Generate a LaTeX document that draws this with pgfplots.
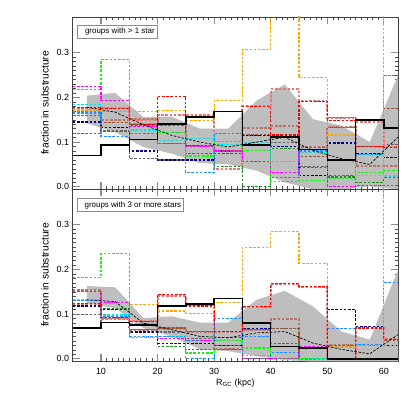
\documentclass[border=0pt]{standalone}
\usepackage{fontspec}
\setmainfont{Liberation Sans}
\usepackage{pgfplots}
\usepackage{pgfplotstable}
\pgfplotsset{compat=1.18}

\definecolor{bandgray}{gray}{0.745}
\definecolor{cMag}{rgb}{1,0,1}
\definecolor{cLime}{rgb}{0.1,0.95,0.1}
\definecolor{cRed}{rgb}{1,0,0}
\definecolor{cOra}{rgb}{1,0.65,0}
\definecolor{cDod}{rgb}{0.12,0.56,1}
\definecolor{cCya}{rgb}{0,0.9,0.9}
\definecolor{cNav}{rgb}{0,0,0.5}
\definecolor{cSie}{rgb}{0.63,0.32,0.18}
\definecolor{cFor}{rgb}{0.13,0.55,0.13}
\definecolor{cGry}{gray}{0.4}
\definecolor{cSal}{rgb}{0.95,0.45,0.45}
\definecolor{cRos}{rgb}{0.72,0.45,0.42}

% bins: left edges, last row repeats the last bin
\pgfplotstableread{
x  mag  lime red  ora  dod  cya  nav  sie  fgr  gry  sal  ros
5  .224 .217 .178 .172 .165 .184 .145 .119 .170 .160 .177 .170
10 .193 .285 .175 .168 .113 .168 .132 .143 .124 .125 .177 .150
15 .134 .141 .140 .168 .120 .127 .080 .137 .140 .063 .150 .152
20 .097 .121 .203 .171 .096 .104 .060 .137 .121 .060 .160 .140
25 .091 .069 .092 .149 .031 .108 .060 .090 .075 .090 .160 .091
30 .080 .101 .074 .193 .119 .094 .080 .078 .045 .080 .039 .080
35 .057 .082 .180 .307 .093 .100 .114 .116 .000 .100 .180 .131
40 .031 .011 .116 .450 .020 .057 .090 .116 .086 .100 .218 .135
45 .088 .014 .191 .244 .080 .076 .025 .067 .043 .045 .191 .090
50 .000 .019 .149 .116 .156 .060 .098 .133 .022 .026 .155 .133
55 .003 .031 .090 .025 .072 .072 .075 .091 .010 .090 .145 .046
60 .003 .037 .088 .450 .249 .024 .066 .175 .020 .095 .090 .046
65 .003 .037 .088 .450 .249 .024 .066 .175 .020 .095 .090 .046
}\topdata

\pgfplotstableread{
x  mag  lime red  ora  dod  cya  nav  sie  fgr  gry  sal  ros
5  .150 .182 .124 .133 .130 .133 .118 .069 .120 .100 .120 .154
10 .126 .235 .092 .129 .095 .098 .110 .095 .113 .090 .090 .091
15 .065 .078 .084 .122 .050 .048 .060 .065 .078 .060 .084 .065
20 .045 .065 .144 .107 .050 .050 .035 .069 .028 .060 .140 .069
25 .040 .013 .118 .102 .000 .040 .035 .061 .020 .045 .120 .061
30 .030 .040 .061 .126 .091 .040 .030 .021 .047 .020 .060 .021
35 .000 .024 .117 .250 .050 .007 .068 .065 .000 .065 .117 .065
40 .000 .000 .168 .285 .015 .000 .000 .067 .034 .068 .168 .089
45 .028 .000 .161 .213 .000 .000 .000 .000 .000 .000 .161 .000
50 .000 .000 .000 .028 .067 .025 .111 .030 .000 .000 .000 .030
55 .000 .000 .069 .020 .032 .030 .072 .030 .000 .000 .069 .000
60 .000 .000 .044 .450 .171 .030 .030 .040 .000 .000 .044 .000
65 .000 .000 .044 .450 .171 .030 .030 .040 .000 .000 .044 .000
}\botdata

\pgfplotsset{
  panel/.style={
    scale only axis, width=325.3bp, height=172bp,
    xmin=5, xmax=62.5, ymin=-0.005, ymax=0.38,
    xtick={10,20,...,60}, minor x tick num=9,
    ytick={0,0.1,0.2,0.3}, minor y tick num=9,
    xtick pos=both, ytick pos=both, tick align=inside,
    major tick length=7bp, minor tick length=3bp,
    axis line style={line width=0.8bp, draw=black!75},
    major tick style={line width=1.1bp, draw=black!45},
    minor tick style={line width=0.5bp, draw=black!70},
    yticklabel style={/pgf/number format/fixed, /pgf/number format/fixed zerofill, /pgf/number format/precision=1},
    /pgf/number format/assume math mode=true,
    tick label style={font=\fontsize{9}{10}\selectfont},
    xticklabel style={yshift=-3.5bp},
    ylabel={fraction in substructure},
    ylabel style={at={(rel axis cs:-0.085,0.5)}, anchor=center, font=\fontsize{10.3}{12}\selectfont},
  },
  hist/.style={const plot, mark=none, line width=1.15bp, dash pattern=on 2.6bp off 1.6bp},
  fat/.style={const plot, mark=none, line width=2bp, dash pattern=on 2.6bp off 1.6bp},
}

\newcommand{\histset}[1]{%
  \addplot[hist, draw=cGry] table[x=x, y=gry]{#1};
  \addplot[fat, draw=cRos] table[x=x, y=ros]{#1};
  \addplot[fat, draw=cSal] table[x=x, y=sal]{#1};
  \addplot[hist, draw=cFor] table[x=x, y=fgr]{#1};
  \addplot[hist, draw=cSie] table[x=x, y=sie]{#1};
  \addplot[hist, draw=cNav] table[x=x, y=nav]{#1};
  \addplot[hist, draw=cCya] table[x=x, y=cya]{#1};
  \addplot[hist, draw=cDod] table[x=x, y=dod]{#1};
  \addplot[hist, draw=cOra] table[x=x, y=ora]{#1};
  \addplot[hist, draw=cRed] table[x=x, y=red]{#1};
  \addplot[hist, draw=cLime] table[x=x, y=lime]{#1};
  \addplot[hist, draw=cMag] table[x=x, y=mag]{#1};
}

\begin{document}
\begin{tikzpicture}
\begin{axis}[panel, name=top, at={(0,0)}, anchor=north west, xticklabels={}]
  \addplot[fill=bandgray, draw=none] coordinates {
    (7.5,.204) (12.5,.210) (17.5,.156) (22.5,.157) (27.5,.130) (32.5,.130)
    (37.5,.193) (42.5,.229) (47.5,.151) (52.5,.137) (57.5,.100) (62.5,.249)
    (62.5,-.006) (57.5,.001) (52.5,-.006) (47.5,-.006) (42.5,.010) (37.5,.036)
    (32.5,.050) (27.5,.053) (22.5,.074) (17.5,.089) (12.5,.122) (7.5,.142)};
  \histset{\topdata}
  \addplot[black, line width=0.7bp, dash pattern=on 2.5bp off 1.5bp] coordinates {
    (7.5,.178) (12.5,.167) (17.5,.139) (22.5,.115) (27.5,.100) (32.5,.089)
    (37.5,.100) (42.5,.111) (47.5,.081) (52.5,.063) (57.5,.050) (62.5,.111)};
  \addplot[const plot, black, line width=1.5bp] coordinates {
    (5,.070) (10,.094) (15,.106) (20,.141) (25,.156) (30,.169) (35,.094)
    (40,.111) (45,.0835) (50,.060) (55,.150) (60,.131) (65,.131)};
  \node[draw=black!45, line width=0.6bp, anchor=north west, inner sep=0pt,
        minimum height=13bp, minimum width=80bp, align=left,
        font=\fontsize{8}{9}\selectfont]
    at (rel axis cs:0.0135,0.953) {\hspace*{7bp}groups with > 1 star\hspace*{2bp}};
\end{axis}

\begin{axis}[panel, name=bot, at={(top.south west)}, anchor=north west,
    xlabel={R\textsubscript{GC} (kpc)},
    xlabel style={at={(rel axis cs:0.5,0)}, anchor=center, yshift=-22bp, font=\fontsize{9}{10}\selectfont}]
  \addplot[fill=bandgray, draw=none] coordinates {
    (7.5,.163) (12.5,.160) (17.5,.091) (22.5,.095) (27.5,.081) (32.5,.081)
    (37.5,.132) (42.5,.152) (47.5,.117) (52.5,.061) (57.5,.043) (62.5,.198)
    (62.5,-.006) (57.5,-.006) (52.5,-.006) (47.5,-.006) (42.5,-.003) (37.5,.006)
    (32.5,.017) (27.5,.021) (22.5,.050) (17.5,.069) (12.5,.113) (7.5,.124)};
  \histset{\botdata}
  \addplot[black, line width=0.7bp, dash pattern=on 2.5bp off 1.5bp] coordinates {
    (7.5,.132) (12.5,.128) (17.5,.080) (22.5,.065) (27.5,.050) (32.5,.047)
    (37.5,.058) (42.5,.061) (47.5,.035) (52.5,.021) (57.5,.011) (62.5,.054)};
  \addplot[const plot, black, line width=1.5bp] coordinates {
    (5,.069) (10,.081) (15,.076) (20,.118) (25,.123) (30,.135) (35,.080)
    (40,.028) (45,.024) (50,0) (55,0) (60,0) (65,0)};
  \node[draw=black!45, line width=0.6bp, anchor=north west, inner sep=0pt,
        minimum height=13bp, minimum width=106bp, align=left,
        font=\fontsize{8}{9}\selectfont]
    at (rel axis cs:0.0135,0.945) {\hspace*{7bp}groups with 3 or more stars\hspace*{2bp}};
\end{axis}
\path (-72.7bp,17bp) rectangle (342.3bp,-398bp);
\end{tikzpicture}
\end{document}
